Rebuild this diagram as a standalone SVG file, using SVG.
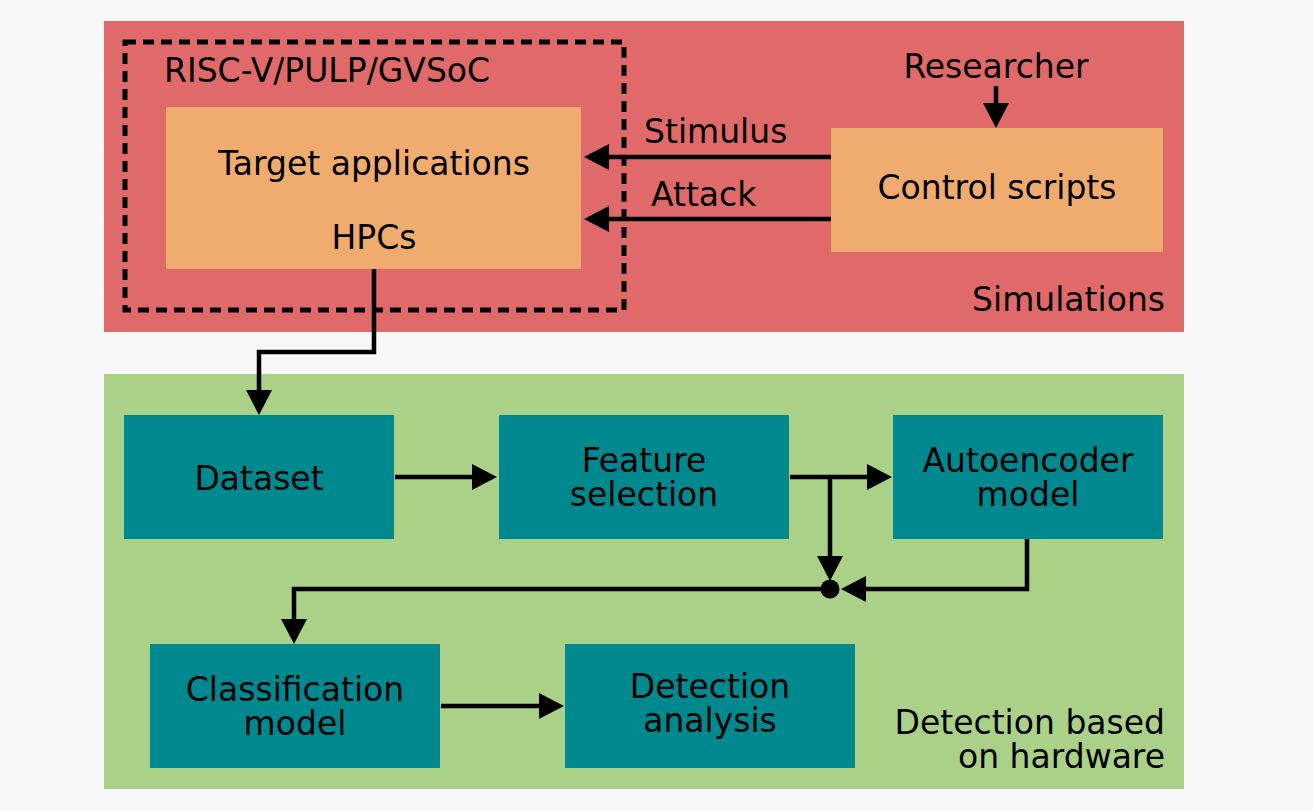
<svg xmlns="http://www.w3.org/2000/svg" width="1313" height="811" viewBox="0 0 1313 811">
<defs>
<marker id="ah" viewBox="0 0 25 26" markerWidth="25" markerHeight="26" refX="1" refY="13" orient="auto" markerUnits="userSpaceOnUse">
<path d="M0,0 L25,13 L0,26 Z" fill="#000"/>
</marker>
<style>
text{font-family:"DejaVu Sans","Liberation Sans",sans-serif;font-size:33px;fill:#000}
.c{text-anchor:middle}
.r{text-anchor:end}
.orange{fill:#f0ac6e}
.teal{fill:#00888f}
.ln{fill:none;stroke:#000;stroke-width:4.5}
.ar{marker-end:url(#ah)}
</style>
</defs>
<rect width="1313" height="811" fill="#f8f8f8"/>
<g id="simulations">
<rect x="104" y="21" width="1080" height="311" fill="#e06a6a"/>
<text class="r" x="1165" y="311">Simulations</text>
</g>
<g id="hardware">
<rect x="104" y="374" width="1080" height="415" fill="#abd189"/>
<text class="r" x="1165" y="734">Detection based</text>
<text class="r" x="1165" y="768">on hardware</text>
</g>
<g id="riscv">
<rect x="125" y="42" width="499" height="268" fill="none" stroke="#000" stroke-width="5" stroke-dasharray="11,7"/>
<text x="164" y="82">RISC-V/PULP/GVSoC</text>
</g>
<g id="target">
<rect class="orange" x="166" y="107" width="415" height="162"/>
<text class="c" x="374" y="175">Target applications</text>
<text class="c" x="374" y="249">HPCs</text>
</g>
<g id="researcher">
<text class="c" x="996" y="78">Researcher</text>
</g>
<g id="control">
<rect class="orange" x="831" y="128" width="332" height="124"/>
<text class="c" x="997" y="199">Control scripts</text>
</g>
<g id="dataset">
<rect class="teal" x="124" y="415" width="270" height="124"/>
<text class="c" x="259" y="490">Dataset</text>
</g>
<g id="feature">
<rect class="teal" x="499" y="415" width="290" height="124"/>
<text class="c" x="644" y="472">Feature</text>
<text class="c" x="644" y="506">selection</text>
</g>
<g id="autoencoder">
<rect class="teal" x="893" y="415" width="270" height="124"/>
<text class="c" x="1028" y="472">Autoencoder</text>
<text class="c" x="1028" y="506">model</text>
</g>
<g id="classification">
<rect class="teal" x="150" y="644" width="290" height="124"/>
<text class="c" x="295" y="701">Classification</text>
<text class="c" x="295" y="735">model</text>
</g>
<g id="detection">
<rect class="teal" x="565" y="644" width="290" height="124"/>
<text class="c" x="710" y="698">Detection</text>
<text class="c" x="710" y="732">analysis</text>
</g>
<g id="junction">
<circle cx="830" cy="589" r="9.5" fill="#000"/>
</g>
<g id="connectors">
<path class="ln ar" d="M996,86 L996,104"/>
<path class="ln ar" d="M831,157 L608,157"/>
<text x="644" y="143">Stimulus</text>
<path class="ln ar" d="M831,219 L608,219"/>
<text x="651" y="206">Attack</text>
<path class="ln ar" d="M374,269 L374,352 L259,352 L259,391"/>
<path class="ln ar" d="M395,477 L473,477"/>
<path class="ln ar" d="M790,477 L868,477"/>
<path class="ln ar" d="M830,477 L830,557"/>
<path class="ln ar" d="M1027,539 L1027,589 L865,589"/>
<path class="ln ar" d="M830,589 L294,589 L294,620"/>
<path class="ln ar" d="M441,706 L540,706"/>
</g>
</svg>
